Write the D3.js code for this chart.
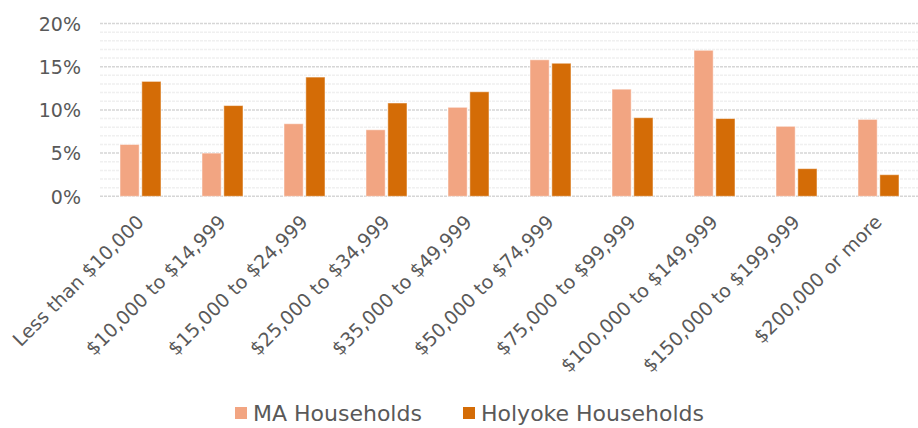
<!DOCTYPE html>
<meta charset="utf-8">
<style>
body { margin: 0; background: #fff; }
text { font-family: "DejaVu Sans", sans-serif; fill: #595959; }
.ytick text { font-size: 19px; }
.xtick text { font-size: 19px; }
.legend text { font-size: 22px; }
</style>
<svg width="918" height="428"></svg>
<script src="https://d3js.org/d3.v7.min.js"></script>
<script>

const categories = ["Less than $10,000", "$10,000 to $14,999", "$15,000 to $24,999",
  "$25,000 to $34,999", "$35,000 to $49,999", "$50,000 to $74,999",
  "$75,000 to $99,999", "$100,000 to $149,999", "$150,000 to $199,999", "$200,000 or more"];
const series = ["MA Households", "Holyoke Households"];
const maValues = [6.0, 5.0, 8.4, 7.7, 10.3, 15.8, 12.4, 16.9, 8.1, 8.9];
const holyokeValues = [13.3, 10.5, 13.8, 10.8, 12.1, 15.4, 9.1, 9.0, 3.2, 2.5];
const yTicks = [0, 5, 10, 15, 20];
const colors = ["#f2a582", "#d46c06"];

const svg = d3.select("svg");
const plotLeft = 100, plotRight = 920, plotTop = 23.5, plotBottom = 196.3;

const x = d3.scaleBand().domain(categories).range([plotLeft, plotRight]);
const x1 = d3.scaleBand().domain(series).range([20, 61]).paddingInner(0.12);
const y = d3.scaleLinear().domain([0, 20]).range([plotBottom, plotTop]);

// minor gridlines every 1%
svg.append("g").selectAll("line")
  .data(d3.range(1, 20).filter(function(d) { return d % 5 != 0; }))
  .enter().append("line")
    .attr("x1", plotLeft).attr("x2", plotRight)
    .attr("y1", function(d) { return y(d); })
    .attr("y2", function(d) { return y(d); })
    .attr("stroke", "#f0f0f0")
    .attr("stroke-width", 1.5)
    .attr("stroke-dasharray", "3,1");

// major gridlines
svg.append("g").selectAll("line")
  .data(yTicks)
  .enter().append("line")
    .attr("x1", plotLeft).attr("x2", plotRight)
    .attr("y1", function(d) { return y(d); })
    .attr("y2", function(d) { return y(d); })
    .attr("stroke", "#d6d6d6")
    .attr("stroke-width", 1.5)
    .attr("stroke-dasharray", "3,1");

// y labels
const yAxis = svg.append("g").attr("class", "ytick")
  .attr("transform", "translate(" + (plotLeft - 19) + ",0)")
  .call(d3.axisLeft(y).tickValues(yTicks).tickSize(0).tickPadding(0)
    .tickFormat(function(d) { return d + "%"; }));
yAxis.select(".domain").remove();
yAxis.selectAll("text").attr("dy", "0.36em");

// bars
const data = categories.map(function(c, i) {
  return { cat: c, vals: [maValues[i], holyokeValues[i]] };
});

const groups = svg.append("g").selectAll("g")
  .data(data)
  .enter().append("g")
    .attr("transform", function(d) { return "translate(" + x(d.cat) + ",0)"; });

groups.selectAll("rect")
  .data(function(d) { return d.vals.map(function(v, j) { return { s: series[j], v: v, j: j }; }); })
  .enter().append("rect")
    .attr("x", function(d) { return x1(d.s); })
    .attr("width", x1.bandwidth())
    .attr("y", function(d) { return y(d.v); })
    .attr("height", function(d) { return plotBottom - y(d.v); })
    .attr("fill", function(d) { return colors[d.j]; })
    .attr("stroke", "#fff")
    .attr("stroke-opacity", 0.5)
    .attr("stroke-width", 1);

// x labels rotated
const xAxis = svg.append("g").attr("class", "xtick")
  .attr("transform", "translate(0," + plotBottom + ")")
  .call(d3.axisBottom(x).tickSize(0).tickPadding(0));
xAxis.select(".domain").remove();
xAxis.selectAll("text")
  .attr("text-anchor", "end")
  .attr("dy", null)
  .attr("y", 0)
  .attr("transform", "translate(4,27) rotate(-45)");

// legend
const legend = svg.append("g").attr("class", "legend");
const legendX = [235, 463];
series.forEach(function(s, i) {
  legend.append("rect")
    .attr("x", legendX[i]).attr("y", 407)
    .attr("width", 12).attr("height", 12)
    .attr("fill", colors[i]);
  legend.append("text")
    .attr("x", legendX[i] + 18).attr("y", 421)
    .text(s);
});
</script>
